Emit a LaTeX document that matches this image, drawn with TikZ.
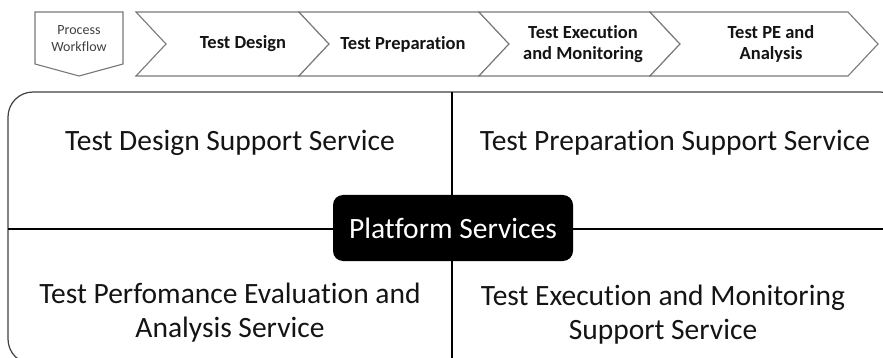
\documentclass[tikz,border=0pt]{standalone}
\usepackage{fontspec}
\setmainfont{Carlito}[Ligatures={NoCommon,NoRequired,NoContextual}, RawFeature={-liga;-dlig;-clig}]
\usepackage{xcolor}
\usetikzlibrary{positioning}

\definecolor{stagegray}{RGB}{120,120,120}
\definecolor{framegray}{RGB}{64,64,64}
\definecolor{textblack}{RGB}{20,20,20}

\tikzset{
    stage/.style={draw=stagegray, line width=1.1pt, fill=white, line join=miter},
    stagetext/.style={font=\fontsize{18.5}{21}\selectfont\bfseries, align=center, text=textblack},
    flowtext/.style={font=\fontsize{14}{17}\selectfont, align=center, text=framegray},
    service/.style={font=\fontsize{29.5}{34}\selectfont, align=center, text=textblack},
    platform/.style={fill=black, rounded corners=10pt, text=white, minimum width=240pt,
        minimum height=66pt, font=\fontsize{29.5}{34}\selectfont}
}

\begin{document}
\begin{tikzpicture}[x=1pt, y=-1pt]
    \useasboundingbox (0, 0) rectangle (883, 358);

    % process workflow header
    \draw[stage] (35, 12) -- (123, 12) -- (123, 64) -- (79, 76) -- (35, 64) -- cycle;
    \node[flowtext] (workflow) at (79, 39) {Process\\Workflow};

    % stages
    \draw[stage] (136, 12) -- (299, 12) -- (329, 44) -- (299, 76) -- (136, 76) -- (166, 44) -- cycle;
    \draw[stage] (299, 12) -- (479, 12) -- (509, 44) -- (479, 76) -- (299, 76) -- (329, 44) -- cycle;
    \draw[stage] (479, 12) -- (650, 12) -- (680, 44) -- (650, 76) -- (479, 76) -- (509, 44) -- cycle;
    \draw[stage] (650, 12) -- (848, 12) -- (878, 44) -- (848, 76) -- (650, 76) -- (680, 44) -- cycle;

    \node[stagetext] (design) at (243, 44) {Test Design};
    \node[stagetext] (preparation) at (403, 44) {Test Preparation};
    \node[stagetext] (execution) at (583, 44) {Test Execution\\and Monitoring};
    \node[stagetext] (analysis) at (771, 44) {Test PE and\\Analysis};

    % service frame
    \begin{scope}
        \clip (0, 0) rectangle (883, 358);
        \draw[framegray, line width=1.2pt, rounded corners=25pt] (8, 92) rectangle (905, 364);
    \end{scope}

    \coordinate (divtop) at (452, 92);
    \coordinate (divbottom) at (452, 358);
    \coordinate (divleft) at (8, 229);
    \coordinate (divright) at (883, 229);
    \draw[line width=1.1pt] (divtop) -- (divbottom);
    \draw[line width=1.1pt] (divleft) -- (divright);

    \node[service] (designsvc) at (230, 143) {Test Design Support Service};
    \node[service] (prepsvc) at (675, 143) {Test Preparation Support Service};
    \node[service] (evalsvc) at (230, 313) {Test Perfomance Evaluation and\\Analysis Service};
    \node[service] (execsvc) at (663, 315) {Test Execution and Monitoring\\Support Service};

    \node[platform] (platform) at (453, 228) {Platform Services};
\end{tikzpicture}
\end{document}
